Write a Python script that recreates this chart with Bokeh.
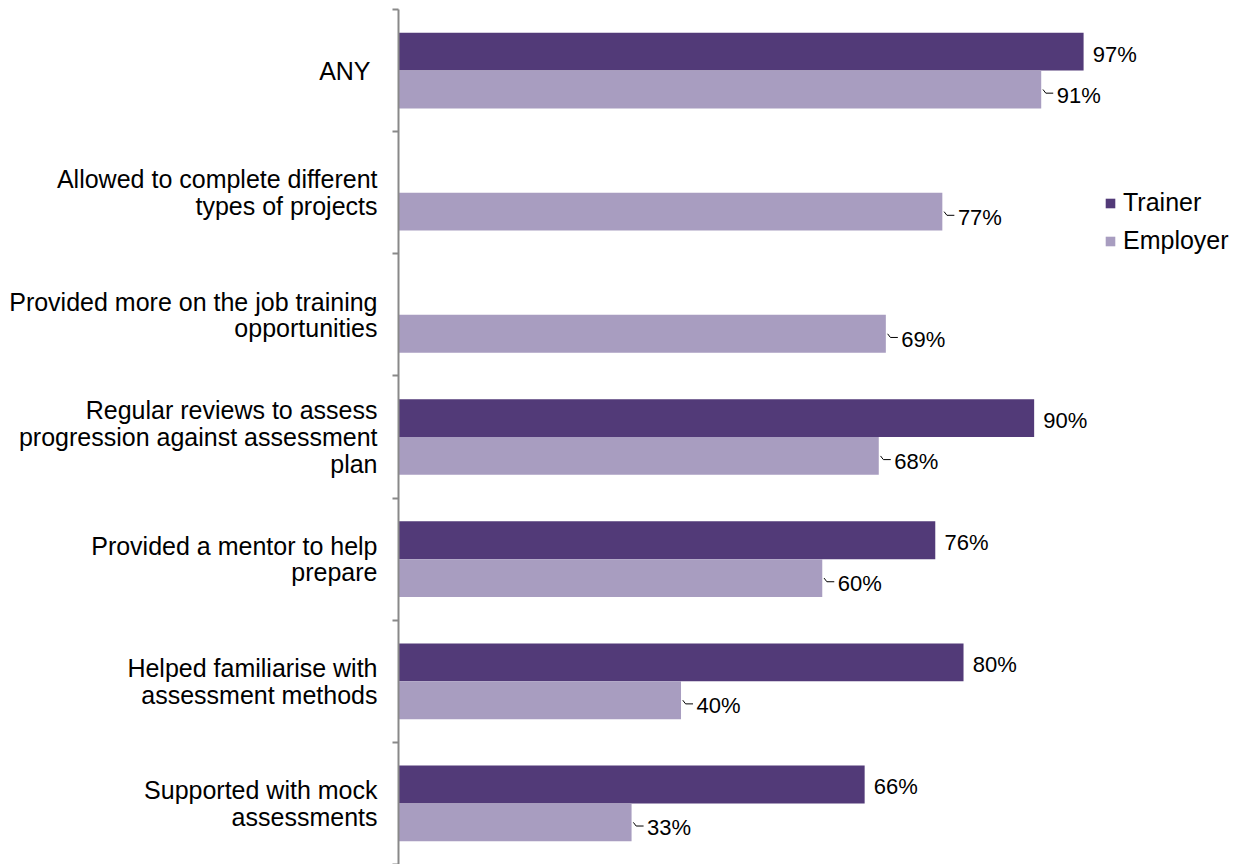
from bokeh.plotting import figure
from bokeh.models import ColumnDataSource, FixedTicker, Range1d, Legend, LegendItem
from bokeh.core.properties import value
from bokeh.embed import file_html
from bokeh.resources import INLINE

categories = [
    "ANY ",
    "Allowed to complete different\ntypes of projects",
    "Provided more on the job training\nopportunities",
    "Regular reviews to assess\nprogression against assessment\nplan",
    "Provided a mentor to help\nprepare",
    "Helped familiarise with\nassessment methods",
    "Supported with mock\nassessments",
]
trainer = [97, None, None, 90, 76, 80, 66]
employer = [91, 77, 69, 68, 60, 40, 33]
series = ["Trainer", "Employer"]

DARK = "#523A78"
LIGHT = "#A89DC0"
FONT = "Liberation Sans"

n = len(categories)
centers = [n - i - 0.5 for i in range(n)]
bar_h = 0.31

# Trainer
t_y = [c + bar_h / 2 for c, v in zip(centers, trainer) if v is not None]
t_v = [v for v in trainer if v is not None]
t_src = ColumnDataSource(dict(y=t_y, right=t_v, lx=[v + 1.3 for v in t_v],
                              ly=[y - 0.02 for y in t_y], txt=[f"{v}%" for v in t_v]))
# Employer
e_y = [c - bar_h / 2 for c in centers]
e_ly = [y - 0.045 for y in e_y]
e_src = ColumnDataSource(dict(y=e_y, right=employer, lx=[v + 2.2 for v in employer],
                              ly=e_ly, txt=[f"{v}%" for v in employer]))
lead_xs = [[v + 0.25, v + 0.65, v + 1.7] for v in employer]
lead_ys = [[y, yl + 0.015, yl + 0.015] for y, yl in zip(e_y, e_ly)]

p = figure(width=1230, height=864, output_backend="svg", toolbar_location=None,
           x_range=Range1d(0, 117.8), y_range=Range1d(0, n),
           min_border_left=398, min_border_right=0, min_border_top=9, min_border_bottom=0)
p.outline_line_color = None
p.xgrid.visible = False
p.ygrid.visible = False
p.xaxis.visible = False

r_t = p.hbar(y="y", left=0, right="right", height=bar_h, source=t_src,
             fill_color=DARK, line_color=None)
r_e = p.hbar(y="y", left=0, right="right", height=bar_h, source=e_src,
             fill_color=LIGHT, line_color=None)

p.multi_line(xs=lead_xs, ys=lead_ys, line_color="#000000", line_width=1)

for src in (t_src, e_src):
    p.text(x="lx", y="ly", text="txt", source=src, text_align="left", text_baseline="middle",
           text_font=value(FONT), text_font_size="22px", text_color="#000000")

yax = p.yaxis[0]
yax.ticker = FixedTicker(ticks=centers, minor_ticks=list(range(n + 1)))
yax.major_label_overrides = {c: lab for c, lab in zip(centers, categories)}
yax.major_tick_in = 0
yax.major_tick_out = 0
yax.minor_tick_in = 0
yax.minor_tick_out = 6
yax.axis_line_color = "#898989"
yax.axis_line_width = 2
yax.minor_tick_line_color = "#898989"
yax.minor_tick_line_width = 2
yax.major_label_standoff = 15
yax.major_label_text_font = FONT
yax.major_label_text_font_size = "25px"
yax.major_label_text_line_height = 0.95
yax.major_label_text_color = "#000000"
yax.major_label_text_align = "right"

legend = Legend(items=[LegendItem(label=series[0], renderers=[r_t]),
                       LegendItem(label=series[1], renderers=[r_e])],
                location=(706, 609), orientation="vertical")
legend.border_line_color = None
legend.background_fill_alpha = 0
legend.padding = 0
legend.margin = 0
legend.glyph_width = 12
legend.glyph_height = 12
legend.label_standoff = 7
legend.label_text_font = FONT
legend.label_text_font_size = "25px"
legend.label_text_color = "#000000"
legend.spacing = 9
p.add_layout(legend)

open("out.html", "w").write(file_html(p, INLINE))
